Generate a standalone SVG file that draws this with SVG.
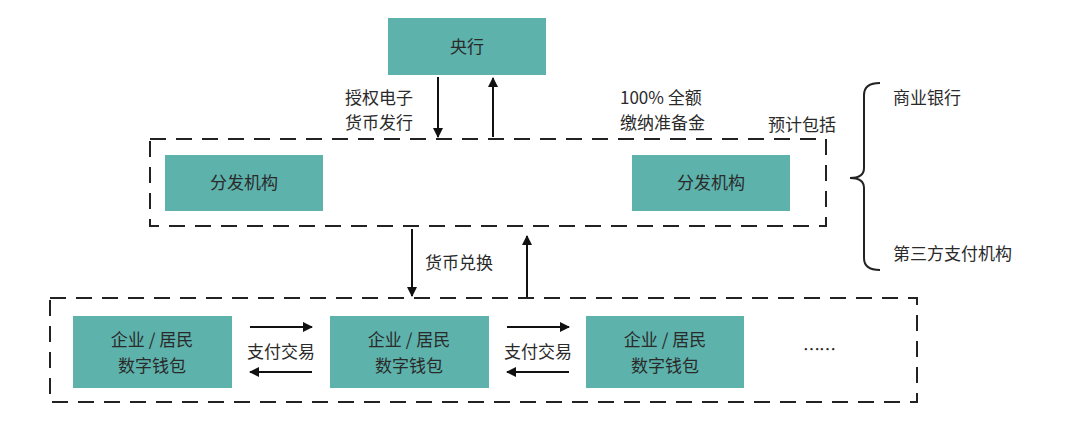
<svg xmlns="http://www.w3.org/2000/svg" width="1080" height="427" viewBox="0 0 1080 427">
<style>
text{font-family:"Noto Sans CJK SC","Noto Sans",sans-serif;font-size:17px;fill:#2a2a2a}
.n{fill:#5db2ac}
.c{text-anchor:middle}
.d{fill:none;stroke:#222;stroke-width:2;stroke-dasharray:16,10}
.a{stroke:#111;stroke-width:2;fill:none;marker-end:url(#ah)}
</style>
<defs><marker id="ah" markerWidth="10" markerHeight="10" refX="9" refY="5" orient="auto" markerUnits="userSpaceOnUse"><path d="M0,0L10,5L0,10z" fill="#111"/></marker></defs>
<rect width="1080" height="427" fill="#fff"/>
<g id="groups">
<rect class="d" x="150" y="139" width="676" height="87"/>
<rect class="d" x="50" y="298" width="867" height="104"/>
</g>
<g id="n-yanghang"><rect class="n" x="388" y="18" width="158" height="57"/><text class="c" x="467" y="53">央行</text></g>
<g id="n-fenfa1"><rect class="n" x="165" y="155" width="158" height="56"/><text class="c" x="244" y="189">分发机构</text></g>
<g id="n-fenfa2"><rect class="n" x="632" y="155" width="158" height="56"/><text class="c" x="711" y="189">分发机构</text></g>
<g id="n-w1"><rect class="n" x="73" y="316" width="159" height="72"/><text class="c" x="152" y="346">企业 / 居民</text><text class="c" x="152" y="372">数字钱包</text></g>
<g id="n-w2"><rect class="n" x="330" y="316" width="159" height="72"/><text class="c" x="409" y="346">企业 / 居民</text><text class="c" x="409" y="372">数字钱包</text></g>
<g id="n-w3"><rect class="n" x="586" y="316" width="158" height="72"/><text class="c" x="665" y="346">企业 / 居民</text><text class="c" x="665" y="372">数字钱包</text></g>
<g id="connectors">
<line class="a" x1="438" y1="77" x2="438" y2="137"/>
<line class="a" x1="493" y1="137" x2="493" y2="78"/>
<line class="a" x1="412" y1="229" x2="412" y2="296"/>
<line class="a" x1="527" y1="297" x2="527" y2="236"/>
<line class="a" x1="250" y1="327" x2="312" y2="327"/>
<line class="a" x1="312" y1="372" x2="250" y2="372"/>
<line class="a" x1="507" y1="327" x2="569" y2="327"/>
<line class="a" x1="569" y1="372" x2="507" y2="372"/>
<path d="M880,83 Q864,83 864,95 L864,168 Q864,178 850,178 Q864,178 864,188 L864,258 Q864,270 880,270" fill="none" stroke="#222" stroke-width="2"/>
</g>
<g id="labels">
<text x="345" y="104">授权电子</text>
<text x="345" y="129">货币发行</text>
<text x="620" y="104">100% 全额</text>
<text x="620" y="129">缴纳准备金</text>
<text x="768" y="131">预计包括</text>
<text x="893" y="104">商业银行</text>
<text x="893" y="260">第三方支付机构</text>
<text x="425" y="269">货币兑换</text>
<text class="c" x="281" y="358">支付交易</text>
<text class="c" x="538" y="358">支付交易</text>
<text x="803" y="356" style="letter-spacing:-1px">……</text>
</g>
</svg>
